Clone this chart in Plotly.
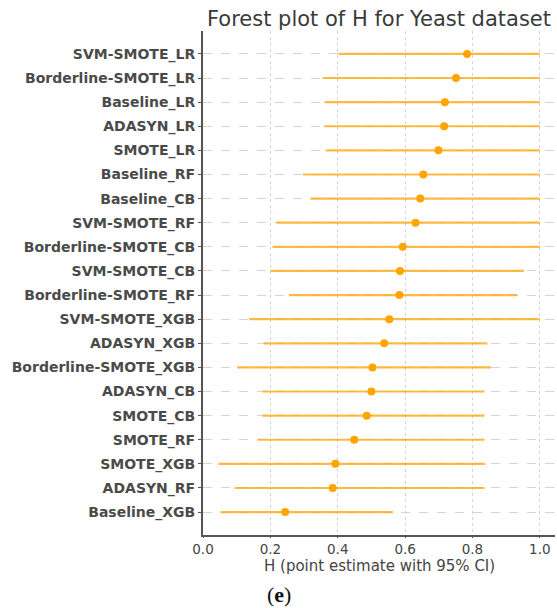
import plotly.graph_objects as go

labels = ["SVM-SMOTE_LR", "Borderline-SMOTE_LR", "Baseline_LR", "ADASYN_LR", "SMOTE_LR",
          "Baseline_RF", "Baseline_CB", "SVM-SMOTE_RF", "Borderline-SMOTE_CB", "SVM-SMOTE_CB",
          "Borderline-SMOTE_RF", "SVM-SMOTE_XGB", "ADASYN_XGB", "Borderline-SMOTE_XGB", "ADASYN_CB",
          "SMOTE_CB", "SMOTE_RF", "SMOTE_XGB", "ADASYN_RF", "Baseline_XGB"]
est = [0.784, 0.751, 0.718, 0.716, 0.699, 0.654, 0.645, 0.631, 0.593, 0.585,
       0.583, 0.553, 0.538, 0.503, 0.500, 0.486, 0.449, 0.393, 0.385, 0.244]
lo = [0.402, 0.355, 0.361, 0.359, 0.364, 0.297, 0.319, 0.218, 0.206, 0.201,
      0.255, 0.137, 0.180, 0.101, 0.176, 0.176, 0.162, 0.046, 0.094, 0.052]
hi = [1.0, 1.0, 1.0, 1.0, 1.0, 1.0, 1.0, 1.0, 1.0, 0.953,
      0.933, 1.0, 0.844, 0.855, 0.836, 0.836, 0.836, 0.838, 0.836, 0.564]
xticks = [0.0, 0.2, 0.4, 0.6, 0.8, 1.0]
x_title = "H (point estimate with 95% CI)"

n = len(labels)
ypos = [n - 1 - i for i in range(n)]
plus = [h - e for h, e in zip(hi, est)]
minus = [e - l for e, l in zip(est, lo)]

fig = go.Figure()
fig.add_trace(go.Scatter(
    x=est, y=ypos, mode="markers",
    marker=dict(color="#FFA500", size=8),
    error_x=dict(type="data", symmetric=False, array=plus, arrayminus=minus,
                 color="rgba(255,170,20,0.8)", thickness=2.2, width=0),
    showlegend=False,
))

font_fam = "DejaVu Sans"
fig.update_layout(
    width=557, height=608,
    margin=dict(l=203, r=2, t=31, b=73),
    plot_bgcolor="white", paper_bgcolor="white",
    font=dict(family=font_fam, color="#333333", size=12),
    title=dict(text="Forest plot of H for Yeast dataset", x=0.5, xanchor="center",
               xref="paper", y=1 - 19 / 608, yanchor="middle",
               font=dict(size=21, color="#3a3a3a", family=font_fam)),
    xaxis=dict(range=[0, 1.045], tickvals=xticks, ticktext=[f"{v:.1f}" for v in xticks],
               showgrid=True, gridcolor="#d4d4d4", griddash="dot", gridwidth=1,
               showline=True, linecolor="#555555", linewidth=2,
               ticks="outside", ticklen=1, tickcolor="#555555",
               zeroline=False, tickfont=dict(size=13.5, color="#444444")),
    yaxis=dict(range=[-0.95, n - 1 + 0.95], tickvals=ypos, ticktext=labels,
               showgrid=True, gridcolor="#d4d4d4", griddash="dash", gridwidth=1,
               showline=True, linecolor="#555555", linewidth=2,
               ticks="outside", ticklen=3, tickcolor="#555555",
               zeroline=False, tickfont=dict(size=14, color="#4a4a4a", weight="bold")),
    annotations=[
        dict(text=x_title, xref="paper", yref="paper", x=0.5,
             y=-(566 - 535) / 504, showarrow=False, xanchor="center", yanchor="middle",
             font=dict(size=15, color="#444444", family=font_fam)),
        dict(text="(<b>e</b>)", xref="paper", yref="paper", x=(279 - 203) / 352,
             y=-(594 - 535) / 504, showarrow=False, xanchor="center", yanchor="middle",
             font=dict(size=22, color="#111111", family="Liberation Serif")),
    ],
)

fig.write_html("out.html")
